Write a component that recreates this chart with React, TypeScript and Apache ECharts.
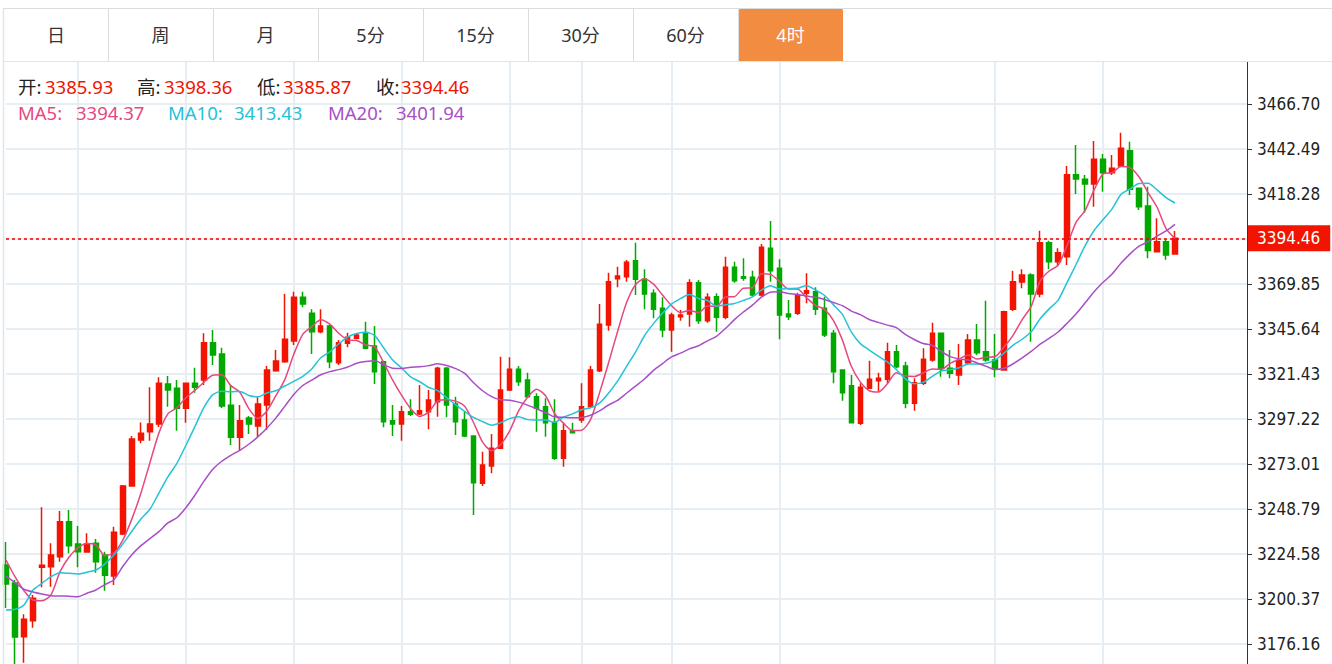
import React, { useEffect, useRef } from "react";
import * as echarts from "echarts";

// ---- data ----
const tabLabels = ["日", "周", "月", "5分", "15分", "30分", "60分", "4时"];
const activeTab = 7;

// [open, close, low, high]
const candles: number[][] = [
  [3218.67, 3208.44, 3195.53, 3231.04],
  [3208.98, 3179.93, 3163.0, 3210.6],
  [3180.09, 3189.45, 3166.1, 3192.14],
  [3188.7, 3200.75, 3184.93, 3202.53],
  [3217.43, 3218.51, 3206.67, 3249.71],
  [3217.75, 3224.05, 3206.99, 3230.34],
  [3223.13, 3241.97, 3220.44, 3247.72],
  [3241.97, 3229.05, 3224.96, 3248.26],
  [3229.97, 3225.82, 3217.43, 3239.65],
  [3225.66, 3229.97, 3225.28, 3235.72],
  [3230.34, 3220.44, 3214.52, 3232.66],
  [3224.05, 3213.13, 3204.84, 3225.82],
  [3212.75, 3236.26, 3207.91, 3239.27],
  [3235.35, 3261.17, 3234.81, 3261.71],
  [3261.17, 3286.46, 3260.8, 3288.07],
  [3285.92, 3289.53, 3284.15, 3295.34],
  [3290.39, 3294.53, 3285.55, 3314.28],
  [3294.53, 3316.43, 3292.92, 3319.66],
  [3316.05, 3312.82, 3303.84, 3320.36],
  [3313.74, 3302.98, 3290.93, 3318.2],
  [3302.98, 3316.43, 3295.23, 3316.59],
  [3316.43, 3314.28, 3311.37, 3324.82],
  [3318.2, 3338.27, 3315.51, 3343.33],
  [3338.27, 3331.66, 3326.28, 3345.11],
  [3332.19, 3304.22, 3303.14, 3335.58],
  [3304.59, 3287.38, 3283.23, 3315.51],
  [3287.38, 3296.31, 3280.0, 3304.75],
  [3297.76, 3294.53, 3289.15, 3298.84],
  [3293.45, 3305.29, 3287.7, 3308.9],
  [3304.75, 3323.59, 3291.3, 3325.74],
  [3323.21, 3328.43, 3322.67, 3334.35],
  [3328.05, 3340.1, 3327.51, 3364.48],
  [3339.19, 3362.7, 3337.04, 3365.71],
  [3362.7, 3359.1, 3357.32, 3365.71],
  [3354.09, 3344.19, 3332.19, 3356.24],
  [3344.19, 3347.26, 3343.33, 3356.24],
  [3347.26, 3328.05, 3324.5, 3347.8],
  [3327.51, 3338.27, 3326.28, 3339.73],
  [3337.95, 3341.18, 3335.8, 3343.65],
  [3340.64, 3342.42, 3340.1, 3343.33],
  [3343.65, 3335.26, 3334.72, 3349.57],
  [3336.5, 3322.67, 3316.05, 3347.26],
  [3328.05, 3295.77, 3292.76, 3328.5],
  [3296.31, 3294.53, 3288.07, 3304.75],
  [3294.53, 3301.15, 3285.55, 3304.22],
  [3301.15, 3299.75, 3298.84, 3307.82],
  [3299.91, 3301.69, 3299.37, 3315.51],
  [3301.15, 3307.44, 3291.68, 3312.82],
  [3306.53, 3324.5, 3298.46, 3325.36],
  [3324.5, 3304.75, 3298.14, 3325.2],
  [3305.29, 3295.77, 3288.61, 3309.22],
  [3296.68, 3288.07, 3287.53, 3301.15],
  [3288.07, 3262.95, 3245.57, 3288.4],
  [3262.62, 3272.47, 3261.17, 3279.63],
  [3271.93, 3281.46, 3268.01, 3289.15],
  [3281.46, 3312.82, 3281.2, 3330.74],
  [3312.82, 3323.96, 3312.28, 3330.42],
  [3323.96, 3317.29, 3314.98, 3325.74],
  [3318.2, 3309.22, 3308.9, 3322.13],
  [3309.22, 3302.98, 3290.39, 3311.05],
  [3303.84, 3295.23, 3287.7, 3308.36],
  [3295.23, 3276.08, 3275.16, 3307.82],
  [3276.08, 3290.93, 3271.56, 3295.23],
  [3290.93, 3289.85, 3289.53, 3295.23],
  [3296.68, 3303.84, 3295.23, 3316.43],
  [3303.84, 3323.59, 3303.14, 3325.74],
  [3323.21, 3348.17, 3322.51, 3359.1],
  [3347.8, 3371.09, 3344.73, 3375.94],
  [3372.71, 3374.16, 3368.08, 3379.17],
  [3373.78, 3381.53, 3371.09, 3382.77],
  [3382.39, 3372.39, 3363.94, 3392.08],
  [3372.39, 3364.48, 3356.24, 3377.77],
  [3364.85, 3356.24, 3351.4, 3367.0],
  [3356.78, 3345.11, 3341.18, 3362.7],
  [3345.11, 3353.18, 3333.43, 3354.41],
  [3352.26, 3353.18, 3350.11, 3355.87],
  [3353.72, 3370.56, 3346.88, 3372.39],
  [3370.56, 3350.11, 3348.34, 3372.01],
  [3350.11, 3362.7, 3349.03, 3364.85],
  [3363.02, 3351.94, 3344.19, 3364.85],
  [3351.94, 3378.84, 3350.86, 3384.55],
  [3378.84, 3371.63, 3370.56, 3381.85],
  [3373.78, 3372.92, 3371.63, 3383.68],
  [3373.46, 3363.94, 3363.02, 3377.01],
  [3363.94, 3389.6, 3363.02, 3391.38],
  [3389.06, 3377.01, 3371.09, 3403.75],
  [3378.3, 3353.18, 3340.1, 3383.15],
  [3353.72, 3352.26, 3350.49, 3361.25],
  [3354.09, 3363.94, 3353.18, 3365.18],
  [3364.85, 3366.25, 3359.47, 3375.61],
  [3365.71, 3356.24, 3353.18, 3368.08],
  [3356.78, 3342.42, 3341.34, 3363.02],
  [3343.33, 3322.67, 3316.43, 3345.11],
  [3323.59, 3311.37, 3307.07, 3323.8],
  [3315.14, 3295.23, 3295.0, 3320.89],
  [3294.91, 3314.28, 3293.99, 3316.43],
  [3313.74, 3318.58, 3313.5, 3328.59],
  [3317.83, 3319.12, 3311.91, 3322.13],
  [3318.58, 3333.43, 3316.43, 3338.27],
  [3333.43, 3325.36, 3324.5, 3337.04],
  [3325.74, 3305.67, 3302.98, 3328.05],
  [3305.67, 3316.75, 3301.69, 3319.12],
  [3316.43, 3329.34, 3315.51, 3335.26],
  [3328.97, 3343.33, 3328.05, 3349.03],
  [3343.33, 3324.5, 3319.98, 3343.6],
  [3324.5, 3321.81, 3319.12, 3334.35],
  [3320.89, 3328.59, 3315.51, 3337.57],
  [3327.51, 3339.73, 3326.81, 3342.95],
  [3339.73, 3332.89, 3331.66, 3348.34],
  [3333.43, 3328.97, 3328.05, 3360.87],
  [3328.97, 3323.96, 3319.66, 3342.95],
  [3323.59, 3354.95, 3323.21, 3355.49],
  [3356.24, 3371.09, 3355.33, 3377.01],
  [3370.93, 3374.7, 3367.54, 3377.77],
  [3374.7, 3364.48, 3338.81, 3375.61],
  [3364.48, 3392.08, 3362.7, 3398.53],
  [3392.08, 3381.85, 3377.77, 3393.16],
  [3381.85, 3386.69, 3380.08, 3389.06],
  [3384.55, 3428.6, 3380.08, 3433.35],
  [3428.6, 3426.4, 3418.28, 3444.64],
  [3426.19, 3423.66, 3408.22, 3428.5],
  [3423.66, 3436.95, 3411.45, 3446.8],
  [3436.95, 3429.74, 3419.52, 3439.8],
  [3429.74, 3432.11, 3428.5, 3439.26],
  [3433.35, 3442.9, 3432.81, 3451.26],
  [3441.58, 3420.81, 3417.74, 3446.42],
  [3421.35, 3411.45, 3409.67, 3421.5],
  [3411.82, 3387.9, 3383.68, 3422.21],
  [3387.24, 3392.62, 3386.8, 3405.21],
  [3392.62, 3385.4, 3382.93, 3393.91],
  [3385.93, 3394.46, 3385.87, 3398.36],
];

// moving-average values at the start of the window (earlier bars are not shown)
const ma5Head = [3221.35, 3212.37, 3204.84, 3199.84];
const ma10Head = [3194.47, 3194.85, 3197.16, 3205.22, 3208.83, 3212.37, 3214.52, 3214.2, 3213.82];
const ma20Head = [
  3212.77, 3209.17, 3205.62, 3204.17, 3203.09, 3202.18, 3202.01, 3201.85, 3201.64, 3203.47,
  3205.24, 3208.09, 3210.78, 3217.99, 3224.23, 3229.07, 3232.84, 3236.6, 3241.28,
];

// bars where a vertical grid line is drawn
const verticalLineBars = [8, 20, 32, 44, 56, 64, 74, 86, 110, 122];
const categoryCount = 139;
const categories = Array.from({ length: categoryCount }, (_, i) => String(i));

const yMin = 3151.9462;
const yInterval = 24.2118;
const yMax = 3490.9114;

// ---- styles ----
const UP = "#f21400";
const DOWN = "#00a800";
const MA5C = "#e8487d";
const MA10C = "#25c2d8";
const MA20C = "#a84fc6";
const GRIDC = "#e6edf3";
const CJK = '"Noto Sans", "Noto Sans CJK SC", sans-serif';
const AXISFONT = '"DejaVu Sans Condensed", "Liberation Sans", sans-serif';

function movingAverage(period: number, head: number[]) {
  const closes = candles.map((c) => c[1]);
  return closes.map((_, i) => {
    if (i < period - 1) return head[i];
    let s = 0;
    for (let k = i - period + 1; k <= i; k++) s += closes[k];
    return +(s / period).toFixed(2);
  });
}

export default function App() {
  const ref = useRef<HTMLDivElement>(null);

  useEffect(() => {
    if (!ref.current) return;
    const chart = echarts.init(ref.current, undefined, { renderer: "svg" });

    const ma5 = movingAverage(5, ma5Head);
    const ma10 = movingAverage(10, ma10Head);
    const ma20 = movingAverage(20, ma20Head);
    const last = candles[candles.length - 1];
    const lastIdx = candles.length - 1;

    const tabEdges = [4, 108, 213, 318, 423, 528, 633, 738, 843];
    const graphics: any[] = [];
    graphics.push({ type: "rect", z: 100, shape: { x: 0, y: 0, width: 1332, height: 61 }, style: { fill: "#fff" } });
    graphics.push({
      type: "rect",
      z: 101,
      shape: { x: tabEdges[activeTab] + 1, y: 8, width: tabEdges[activeTab + 1] - tabEdges[activeTab] - 1, height: 53, r: [3, 3, 0, 0] },
      style: { fill: "#f28c41" },
    });
    graphics.push({ type: "line", z: 102, shape: { x1: 4, y1: 8.5, x2: 1332, y2: 8.5 }, style: { stroke: "#dcdcdc", lineWidth: 1 } });
    graphics.push({ type: "line", z: 102, shape: { x1: 4, y1: 61.5, x2: 1332, y2: 61.5 }, style: { stroke: "#dfe5ea", lineWidth: 1 } });
    graphics.push({ type: "line", z: 102, shape: { x1: 3.5, y1: 8, x2: 3.5, y2: 664 }, style: { stroke: "#dfe5ea", lineWidth: 1.5 } });
    for (let i = 1; i < tabEdges.length - 1; i++) {
      graphics.push({
        type: "line",
        z: 102,
        shape: { x1: tabEdges[i] + 0.5, y1: 8, x2: tabEdges[i] + 0.5, y2: 61 },
        style: { stroke: "#dcdcdc", lineWidth: 1 },
      });
    }
    tabLabels.forEach((t, i) => {
      graphics.push({
        type: "text",
        z: 103,
        x: (tabEdges[i] + tabEdges[i + 1]) / 2,
        y: 35,
        style: {
          text: t,
          fill: i === activeTab ? "#ffffff" : "#333333",
          fontSize: 18,
          fontFamily: CJK,
          align: "center",
          verticalAlign: "middle",
          textAlign: "center",
          textVerticalAlign: "middle",
        },
      });
    });

    const addText = (text: string, x: number, y: number, fill: string) => {
      graphics.push({
        type: "text",
        z: 90,
        x,
        y,
        style: { text, fill, fontSize: 18.5, fontFamily: CJK, align: "left", verticalAlign: "middle", textAlign: "left", textVerticalAlign: "middle" },
      });
    };
    const infoRow = [
      { l: "开:", v: last[0], lx: 18, vx: 45 },
      { l: "高:", v: last[3], lx: 137, vx: 164 },
      { l: "低:", v: last[2], lx: 257, vx: 283 },
      { l: "收:", v: last[1], lx: 376, vx: 401 },
    ];
    infoRow.forEach((r) => {
      addText(r.l, r.lx, 86, "#222222");
      addText(r.v.toFixed(2), r.vx, 86, "#f01400");
    });
    const maRow = [
      { l: "MA5:", v: ma5[lastIdx], lx: 18, vx: 76, c: MA5C },
      { l: "MA10:", v: ma10[lastIdx], lx: 168, vx: 234, c: MA10C },
      { l: "MA20:", v: ma20[lastIdx], lx: 328, vx: 396, c: MA20C },
    ];
    maRow.forEach((r) => {
      addText(r.l, r.lx, 112, r.c);
      addText(r.v.toFixed(2), r.vx, 112, r.c);
    });

    const lineSeries = (name: string, data: number[], color: string) => ({
      name,
      type: "line",
      data,
      showSymbol: false,
      smooth: 0.25,
      silent: true,
      lineStyle: { color, width: 1.5 },
      itemStyle: { color },
    });

    chart.setOption({
      animation: false,
      backgroundColor: "#ffffff",
      grid: { left: 6, right: 85, top: 59, bottom: 11, containLabel: false },
      xAxis: {
        type: "category",
        data: categories,
        boundaryGap: false,
        axisLine: { show: false },
        axisTick: { show: false },
        axisLabel: { show: false },
        splitLine: {
          show: true,
          interval: (index: number) => verticalLineBars.indexOf(index) >= 0,
          lineStyle: { color: GRIDC, width: 2 },
        },
      },
      yAxis: {
        type: "value",
        position: "right",
        min: yMin,
        max: yMax,
        interval: yInterval,
        scale: true,
        axisLine: { show: true, lineStyle: { color: "#333333", width: 1 } },
        axisTick: { show: true, length: 5, lineStyle: { color: "#333333" } },
        axisLabel: {
          show: true,
          margin: 10,
          color: "#222222",
          fontSize: 17,
          fontFamily: AXISFONT,
          showMaxLabel: false,
          showMinLabel: false,
          formatter: (v: number) => v.toFixed(2),
        },
        splitLine: { show: true, lineStyle: { color: GRIDC, width: 2 } },
      },
      series: [
        {
          name: "K",
          type: "candlestick",
          data: candles,
          barWidth: 5,
          clip: false,
          silent: true,
          itemStyle: { color: UP, color0: DOWN, borderColor: UP, borderColor0: DOWN, borderWidth: 1.5 },
          markLine: {
            silent: true,
            symbol: ["none", "none"],
            lineStyle: { color: "#f00000", width: 1.5, type: [3, 3] },
            label: {
              show: true,
              position: "end",
              distance: 1,
              formatter: () => last[1].toFixed(2),
              color: "#ffffff",
              backgroundColor: "#f21400",
              fontSize: 17,
              fontFamily: AXISFONT,
              padding: [5, 10, 4, 9],
            },
            data: [{ yAxis: last[1] }],
          },
        },
        lineSeries("MA5", ma5, MA5C),
        lineSeries("MA10", ma10, MA10C),
        lineSeries("MA20", ma20, MA20C),
      ],
      graphic: graphics,
    });

    return () => chart.dispose();
  }, []);

  return (
    <div style={{ position: "fixed", left: 0, top: 0, width: 1332, height: 664, overflow: "hidden", background: "#fff" }}>
      <div ref={ref} style={{ width: 1332, height: 700 }} />
    </div>
  );
}
